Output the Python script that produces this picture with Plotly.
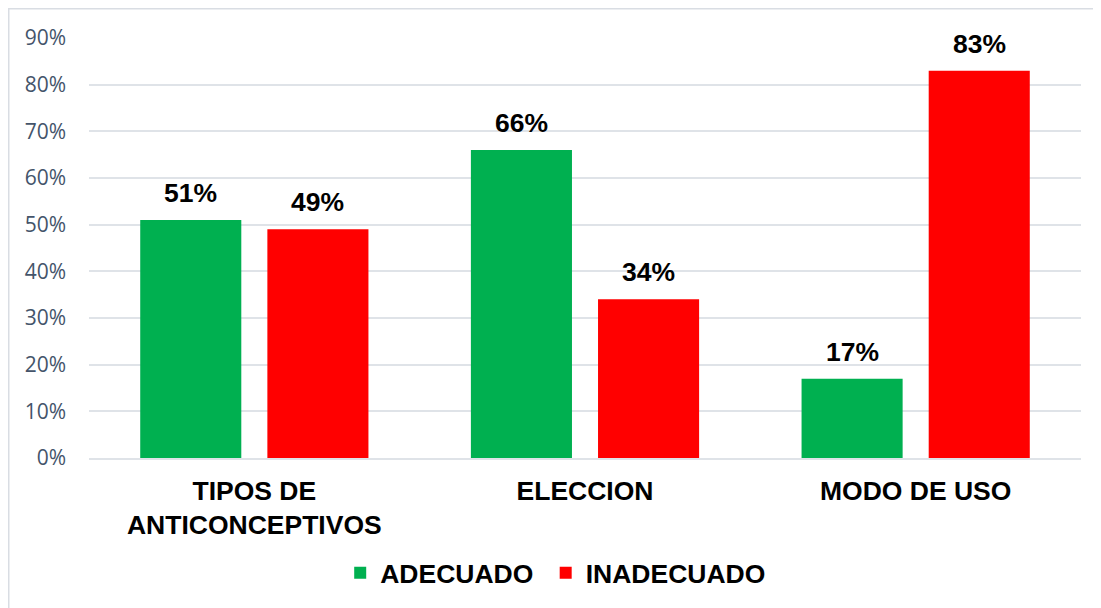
import plotly.graph_objects as go

categories = ["TIPOS DE<br>ANTICONCEPTIVOS", "ELECCION", "MODO DE USO"]
adecuado = [0.51, 0.66, 0.17]
inadecuado = [0.49, 0.34, 0.83]
series_names = ["ADECUADO", "INADECUADO"]
series_colors = ["#00B050", "#FF0000"]
y_ticks = [0, 0.1, 0.2, 0.3, 0.4, 0.5, 0.6, 0.7, 0.8, 0.9]

BOLD = dict(family="Arial, Liberation Sans", size=26.5, color="black", weight="bold")

# page body has an 8px margin, so figure coordinates = screen coordinates - 8
L, T = 81, 30
PW = 1101 - L - 28
PH = 420

fig = go.Figure()
for i, (name, vals, col) in enumerate(zip(series_names, [adecuado, inadecuado], series_colors)):
    label = name + ("\u00a0" if i == 0 else "")
    fig.add_trace(go.Bar(x=categories, y=vals, name=label, marker=dict(color=col, line=dict(width=0)),
                         hoverinfo="skip"))

annotations = []
for shift, vals in zip([-63.5, 63.5], [adecuado, inadecuado]):
    for c, v in zip(categories, vals):
        annotations.append(dict(x=c, y=v, xref="x", yref="y", text=f"{round(v*100)}%",
                                showarrow=False, xshift=shift, yshift=27, yanchor="middle",
                                font=BOLD))

fig.update_layout(
    width=1101, height=608,
    margin=dict(l=L, r=28, t=T, b=608 - T - PH),
    paper_bgcolor="white", plot_bgcolor="white",
    barmode="group", bargap=0.231, bargroupgap=0.205,
    annotations=annotations,
    showlegend=True,
    legend=dict(orientation="h", x=(563 - 8 - 11 + 3.7 - L) / PW, xanchor="center",
                y=-(573 - 458) / PH, yanchor="middle",
                font=BOLD, traceorder="normal", itemwidth=30),
    shapes=[dict(type="rect", xref="paper", yref="paper",
                 x0=(0.75 - L) / PW, x1=(1120 - L) / PW,
                 y0=(PH + T - 0.75) / PH, y1=-(200) / PH,
                 line=dict(color="#D9DDE3", width=1.5), fillcolor="rgba(0,0,0,0)", layer="below")],
)
fig.update_yaxes(range=[0, 0.9], tickvals=y_ticks, tickformat=".0%",
                 gridcolor="#DFE3E8", gridwidth=1.5, zeroline=False, showline=False,
                 tickfont=dict(family="Open Sans", size=21, color="#44546A"),
                 ticklabelstandoff=22, fixedrange=True)
fig.update_xaxes(showline=True, linecolor="#DFE3E8", linewidth=1.5, showgrid=False,
                 tickfont=BOLD, ticklabelstandoff=8, fixedrange=True)

fig.write_html("out.html", config={"displayModeBar": False})
